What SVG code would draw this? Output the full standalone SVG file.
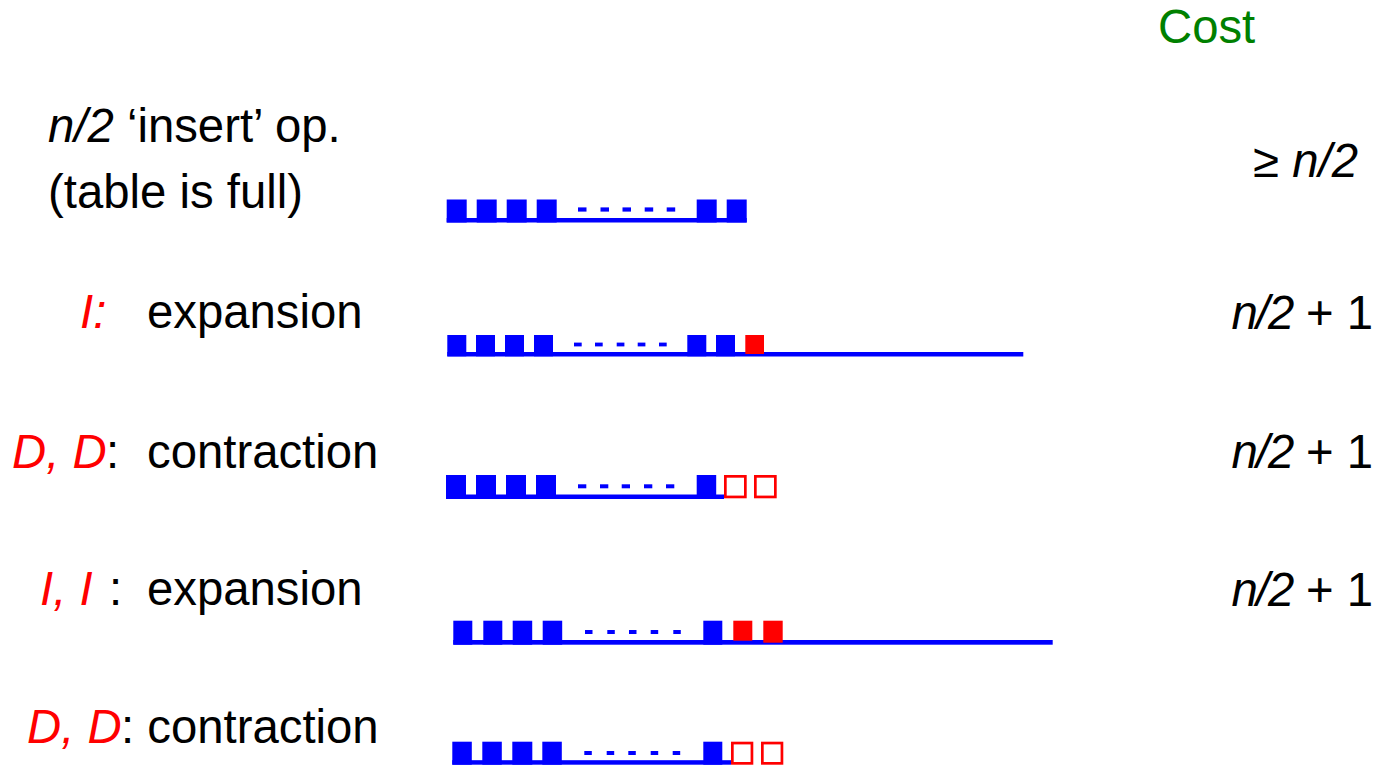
<svg xmlns="http://www.w3.org/2000/svg" width="1383" height="771" viewBox="0 0 1383 771">
<style>
text{font-family:"Liberation Sans",Arial,sans-serif;font-size:47.3px;fill:#000}
.r{fill:#ff0000;font-style:italic}
.i{font-style:italic}
.n{font-style:italic;letter-spacing:-1.5px}
.g{fill:#008000}
.b{fill:#0000ff}
.rf{fill:#ff0000}
.ro{fill:none;stroke:#ff0000;stroke-width:2.7}
</style>
<rect width="1383" height="771" fill="#fff"/>
<g id="header"><text class="g" x="1158" y="43">Cost</text></g>
<g id="row0">
<text x="48" y="142"><tspan class="i">n/2</tspan> ‘insert’ op.</text>
<text x="48" y="208">(table is full)</text>
<text x="1358" y="177" text-anchor="end">≥ <tspan class="i">n/2</tspan></text>
<g id="bar0">
<rect class="b" x="446.7" y="199.5" width="20" height="23"/>
<rect class="b" x="476.7" y="199.5" width="20" height="23"/>
<rect class="b" x="506.7" y="199.5" width="20" height="23"/>
<rect class="b" x="536.7" y="199.5" width="20" height="23"/>
<rect class="b" x="696.7" y="199.5" width="20" height="23"/>
<rect class="b" x="726.7" y="199.5" width="20" height="23"/>
<rect class="b" x="446.7" y="218" width="300" height="4.5"/>
<rect class="b" x="578" y="207.4" width="8.5" height="4.2"/>
<rect class="b" x="600.5" y="207.4" width="8.5" height="4.2"/>
<rect class="b" x="622.5" y="207.4" width="8.5" height="4.2"/>
<rect class="b" x="644.7" y="207.4" width="8.5" height="4.2"/>
<rect class="b" x="666.7" y="207.4" width="8.5" height="4.2"/>
</g>
</g>
<g id="row1">
<text class="r" x="80" y="328">I:</text>
<text x="147" y="328">expansion</text>
<text x="1373" y="329" text-anchor="end"><tspan class="n">n/2</tspan> + 1</text>
<g id="bar1">
<rect class="b" x="447.3" y="335" width="19" height="21.3"/>
<rect class="b" x="476" y="335" width="19" height="21.3"/>
<rect class="b" x="505" y="335" width="19" height="21.3"/>
<rect class="b" x="534" y="335" width="19" height="21.3"/>
<rect class="b" x="687.3" y="335" width="19" height="21.3"/>
<rect class="b" x="716" y="335" width="19" height="21.3"/>
<rect class="b" x="447.3" y="352" width="576" height="4.5"/>
<rect class="rf" x="745.3" y="335" width="18.7" height="19"/>
<rect class="b" x="574" y="342.6" width="7.7" height="3.8"/>
<rect class="b" x="595" y="342.6" width="7.7" height="3.8"/>
<rect class="b" x="616.7" y="342.6" width="7.7" height="3.8"/>
<rect class="b" x="637.7" y="342.6" width="7.7" height="3.8"/>
<rect class="b" x="659" y="342.6" width="7.7" height="3.8"/>
</g>
</g>
<g id="row2">
<text class="r" x="12" y="468">D, D</text>
<text x="106" y="468">:</text>
<text x="147" y="468">contraction</text>
<text x="1373" y="468" text-anchor="end"><tspan class="n">n/2</tspan> + 1</text>
<g id="bar2">
<rect class="b" x="446" y="475" width="20" height="24"/>
<rect class="b" x="476" y="475" width="20" height="24"/>
<rect class="b" x="506" y="475" width="20" height="24"/>
<rect class="b" x="536" y="475" width="20" height="24"/>
<rect class="b" x="696.7" y="475" width="19.5" height="24"/>
<rect class="b" x="446" y="494.5" width="278" height="4.5"/>
<rect class="ro" x="725.35" y="476.35" width="20" height="20.6"/>
<rect class="ro" x="755.35" y="476.35" width="20" height="20.6"/>
<rect class="b" x="578" y="484.3" width="8.3" height="4"/>
<rect class="b" x="600" y="484.3" width="8.3" height="4"/>
<rect class="b" x="621.7" y="484.3" width="8.3" height="4"/>
<rect class="b" x="644" y="484.3" width="8.3" height="4"/>
<rect class="b" x="666" y="484.3" width="8.3" height="4"/>
</g>
</g>
<g id="row3">
<text class="r" x="40" y="605">I, I</text>
<text x="109" y="605">:</text>
<text x="147" y="605">expansion</text>
<text x="1373" y="606" text-anchor="end"><tspan class="n">n/2</tspan> + 1</text>
<g id="bar3">
<rect class="b" x="453.3" y="620.7" width="19" height="24"/>
<rect class="b" x="483.3" y="620.7" width="19" height="24"/>
<rect class="b" x="512.7" y="620.7" width="19.5" height="24"/>
<rect class="b" x="542.7" y="620.7" width="19.5" height="24"/>
<rect class="b" x="703.3" y="620.7" width="19" height="24"/>
<rect class="b" x="453.3" y="640" width="599.4" height="4.7"/>
<rect class="rf" x="733.3" y="620.7" width="19" height="20"/>
<rect class="rf" x="763.3" y="620.7" width="19.4" height="22"/>
<rect class="b" x="585" y="630" width="7.5" height="4"/>
<rect class="b" x="607.3" y="630" width="7.5" height="4"/>
<rect class="b" x="629" y="630" width="7.5" height="4"/>
<rect class="b" x="650.7" y="630" width="7.5" height="4"/>
<rect class="b" x="673.3" y="630" width="7.5" height="4"/>
</g>
</g>
<g id="row4">
<text class="r" x="27" y="743">D, D</text>
<text x="121" y="743">: contraction</text>
<g id="bar4">
<rect class="b" x="452.3" y="741.7" width="19.5" height="23"/>
<rect class="b" x="482.3" y="741.7" width="19.5" height="23"/>
<rect class="b" x="512.3" y="741.7" width="20" height="23"/>
<rect class="b" x="542.3" y="741.7" width="19.5" height="23"/>
<rect class="b" x="703.3" y="741.7" width="19" height="23"/>
<rect class="b" x="452.3" y="760.2" width="278.7" height="4.5"/>
<rect class="ro" x="732.35" y="743.05" width="19.6" height="20.3"/>
<rect class="ro" x="762.35" y="743.05" width="19.6" height="20.3"/>
<rect class="b" x="584.3" y="751" width="7.5" height="4"/>
<rect class="b" x="606.7" y="751" width="7.5" height="4"/>
<rect class="b" x="628.3" y="751" width="7.5" height="4"/>
<rect class="b" x="650.7" y="751" width="7.5" height="4"/>
<rect class="b" x="672.7" y="751" width="7.5" height="4"/>
</g>
</g>
<g id="connectors"/>
</svg>
